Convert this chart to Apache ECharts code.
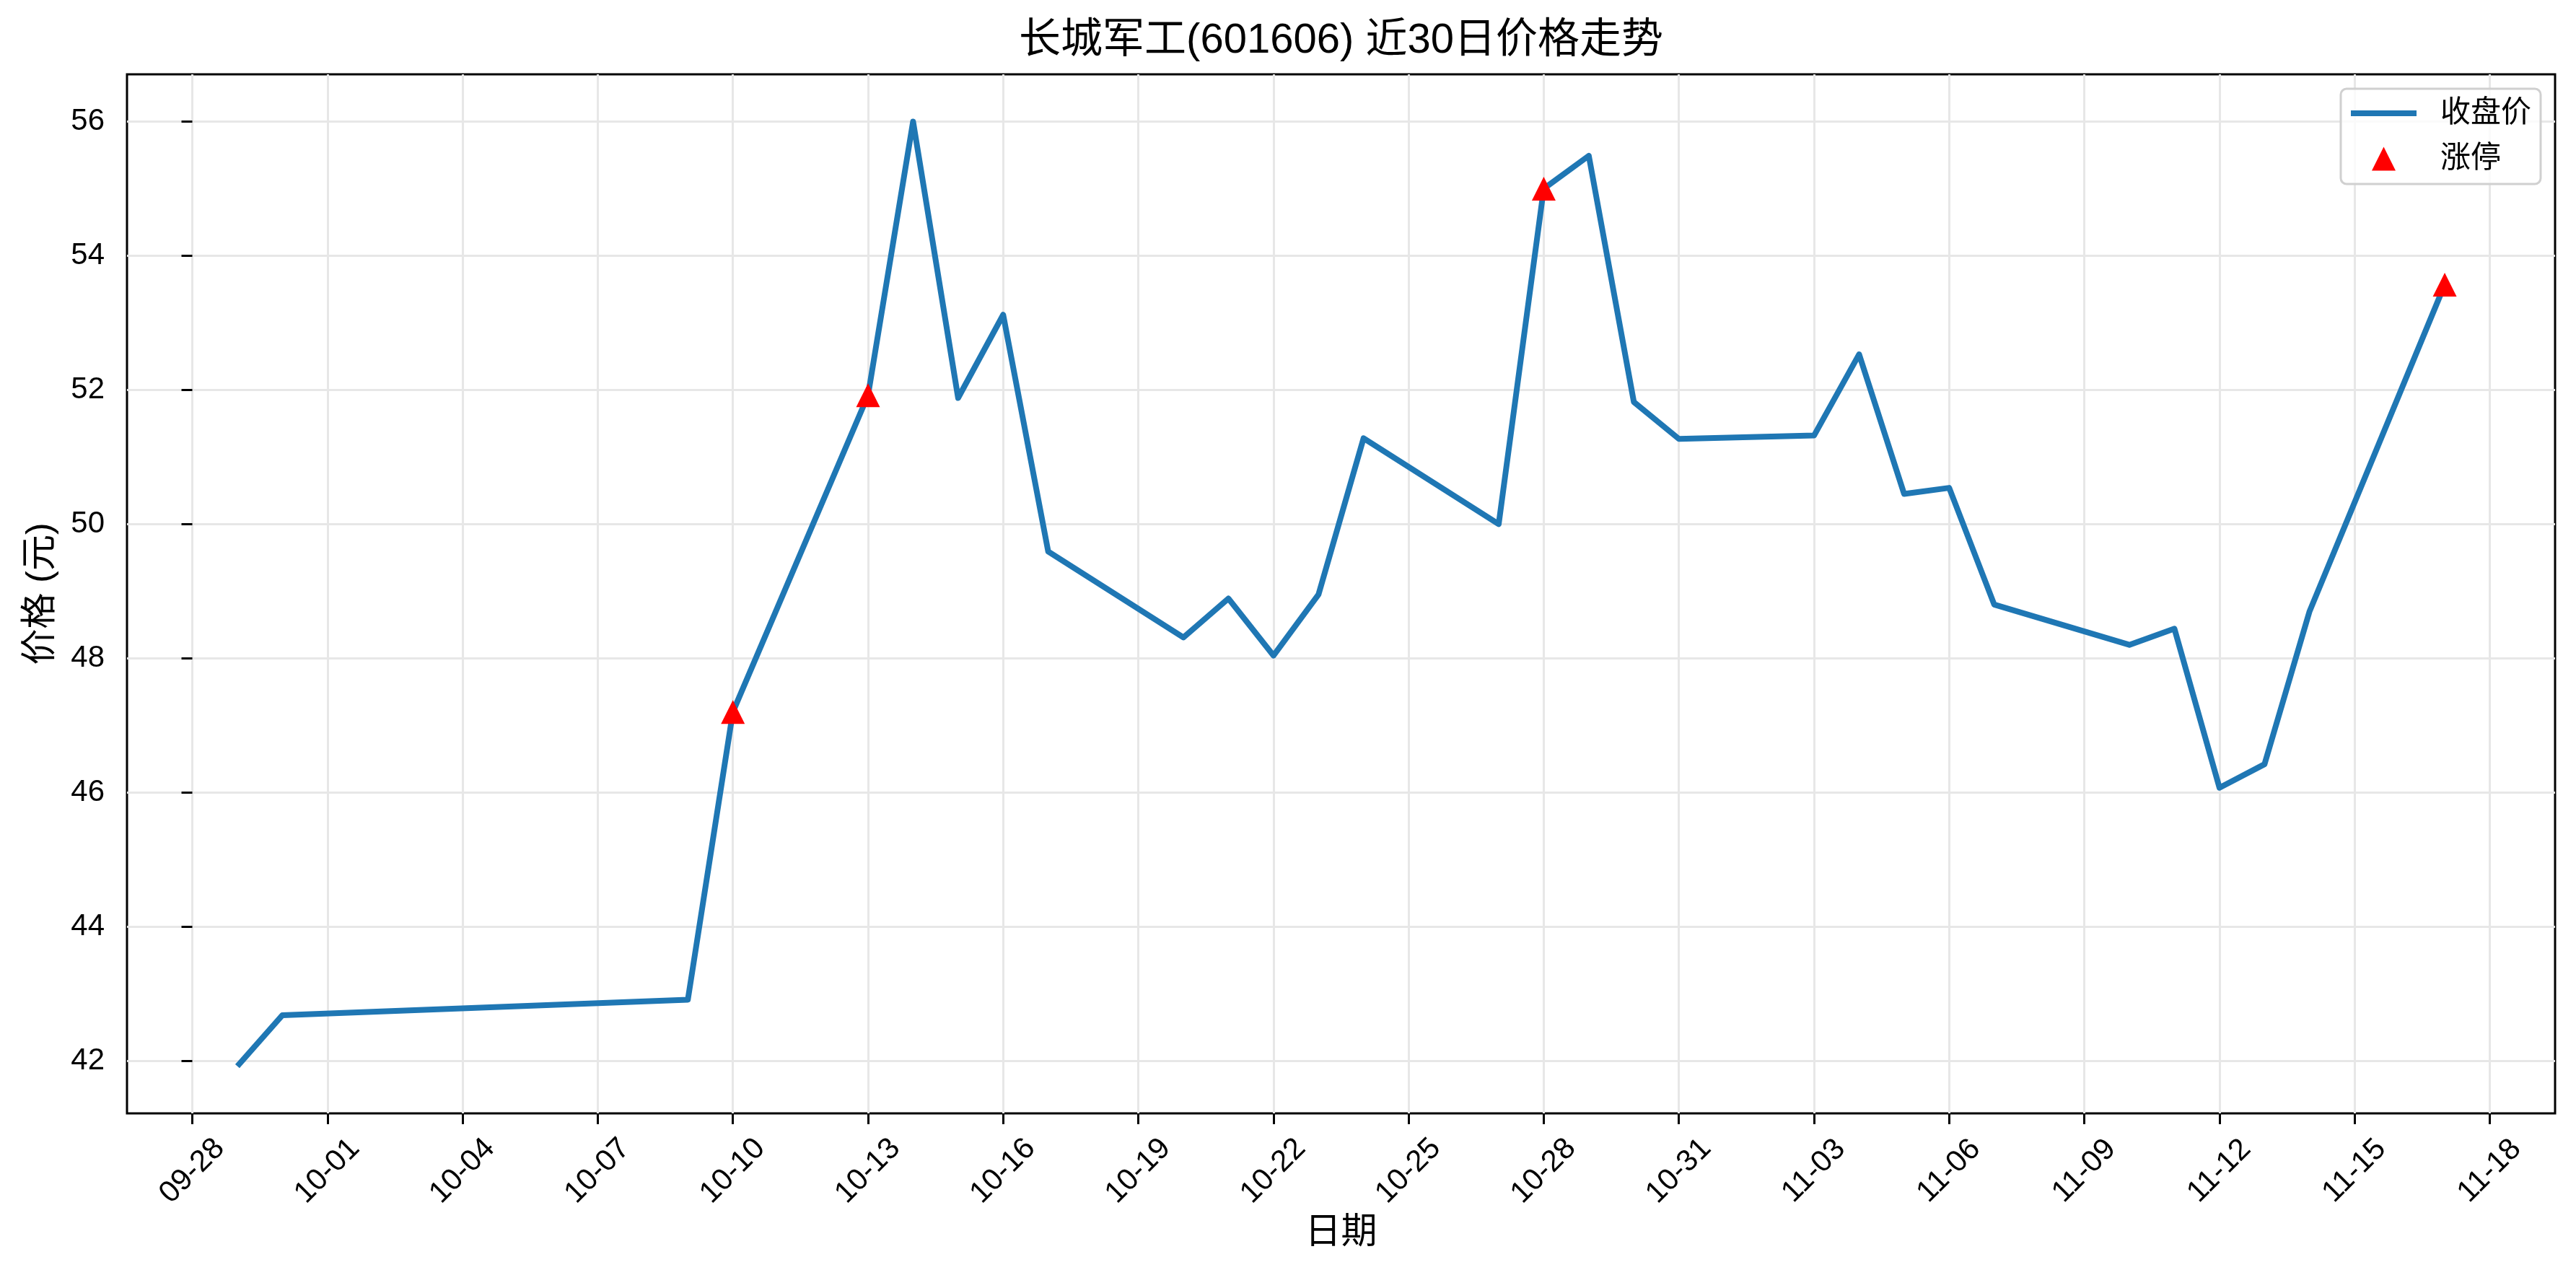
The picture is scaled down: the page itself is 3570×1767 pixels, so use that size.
<!DOCTYPE html>
<html><head><meta charset="utf-8">
<script src="https://cdn.jsdelivr.net/npm/echarts@6/dist/echarts.min.js"></script>
<style>html,body{margin:0;padding:0;background:#fff}#c{width:3570px;height:1767px}</style>
</head><body><div id="c"></div>
<script>
// ---- data ----
const YEAR = 2025;
const dates = ['09-29','09-30','10-09','10-10','10-13','10-14','10-15','10-16','10-17','10-20',
  '10-21','10-22','10-23','10-24','10-27','10-28','10-29','10-30','10-31','11-03',
  '11-04','11-05','11-06','11-07','11-10','11-11','11-12','11-13','11-14','11-17'];
const closePrices = [41.92,42.68,42.91,47.20,51.92,56.00,51.88,53.12,49.59,48.31,
  48.89,48.04,48.95,51.28,50.00,55.00,55.49,51.82,51.27,51.32,
  52.53,50.45,50.54,48.80,48.20,48.44,46.07,46.42,48.70,53.57];
const limitUpDates = ['10-10','10-13','10-28','11-17'];
const xTickLabels = ['09-28','10-01','10-04','10-07','10-10','10-13','10-16','10-19','10-22',
  '10-25','10-28','10-31','11-03','11-06','11-09','11-12','11-15','11-18'];
const yTickValues = [42,44,46,48,50,52,54,56];

// ---- helpers ----
function dayNum(s){
  const p = s.split('-').map(Number);
  const b = xTickLabels[0].split('-').map(Number);
  return Math.round((Date.UTC(YEAR,p[0]-1,p[1]) - Date.UTC(YEAR,b[0]-1,b[1]))/86400000);
}
const xs = dates.map(dayNum);
const lineData = dates.map((d,i)=>[xs[i], closePrices[i]]);
const limitData = limitUpDates.map(d=>[dayNum(d), closePrices[dates.indexOf(d)]]);
const xTicks = xTickLabels.map(dayNum);
const labelMap = {}; xTickLabels.forEach(l=>{labelMap[dayNum(l)] = l;});
const xLo = Math.min(...xs), xHi = Math.max(...xs), xPad = (xHi-xLo)*0.05;
const yLo = Math.min(...closePrices), yHi = Math.max(...closePrices), yPad = (yHi-yLo)*0.05;

const FONT = "'Liberation Sans','Noto Sans CJK SC',sans-serif";
const chart = echarts.init(document.getElementById('c'), null, {renderer:'canvas'});
chart.setOption({
  animation:false,
  backgroundColor:'#ffffff',
  title:{text:'长城军工(601606) 近30日价格走势', left:1858.5, top:28, textAlign:'center', padding:0,
    textStyle:{fontFamily:FONT, fontSize:58, fontWeight:'normal', color:'#000'}},
  grid:{left:176, right:29, top:103, bottom:224, show:true, borderColor:'#000', borderWidth:3,
    backgroundColor:'transparent', containLabel:false, outerBoundsMode:'none'},
  xAxis:{type:'value', min:xLo-xPad, max:xHi+xPad,
    name:'日期', nameLocation:'middle', nameGap:141,
    nameTextStyle:{fontFamily:FONT, fontSize:50, color:'#000'},
    axisLine:{show:false},
    axisTick:{show:true, length:15, lineStyle:{color:'#000', width:3}, customValues:xTicks},
    axisLabel:{customValues:xTicks, rotate:45, align:'center', verticalAlign:'middle', margin:80,
      fontFamily:FONT, fontSize:42, color:'#000', formatter:v=>labelMap[v]},
    splitLine:{show:true, lineStyle:{color:'#e7e7e7', width:3}}},
  yAxis:{type:'value', min:yLo-yPad, max:yHi+yPad,
    name:'价格 (元)', nameLocation:'middle', nameRotate:90, nameGap:94,
    nameTextStyle:{fontFamily:FONT, fontSize:50, color:'#000'},
    axisLine:{show:false},
    axisTick:{show:true, length:15, lineStyle:{color:'#000', width:3}, customValues:yTickValues},
    axisLabel:{customValues:yTickValues, margin:31, fontFamily:FONT, fontSize:42, color:'#000'},
    splitLine:{show:true, lineStyle:{color:'#e7e7e7', width:3}}},
  legend:[
    {data:['收盘价'], left:3244, top:123, orient:'vertical', icon:'rect', itemWidth:91, itemHeight:8,
      padding:[13,13,77,14], backgroundColor:'rgba(255,255,255,0.8)', borderColor:'#d0d0d0',
      borderWidth:3, borderRadius:8, selectedMode:false,
      textStyle:{fontFamily:FONT, fontSize:42, lineHeight:42, color:'#000', padding:[0,0,0,28]}},
    {data:['涨停'], left:3287, top:199, orient:'vertical', icon:'triangle', itemWidth:33, itemHeight:33,
      padding:0, selectedMode:false, z:6, itemStyle:{opacity:1},
      textStyle:{fontFamily:FONT, fontSize:42, lineHeight:42, color:'#000', padding:[0,0,0,57]}}
  ],
  series:[
    {name:'收盘价', type:'line', data:lineData, showSymbol:false, symbol:'none',
      lineStyle:{color:'#1f77b4', width:8, join:'round'}, itemStyle:{color:'#1f77b4'}, z:2},
    {name:'涨停', type:'scatter', data:limitData, symbol:'triangle', symbolSize:[33,33],
      itemStyle:{color:'#ff0000', opacity:1}, z:3}
  ]
});
</script></body></html>
